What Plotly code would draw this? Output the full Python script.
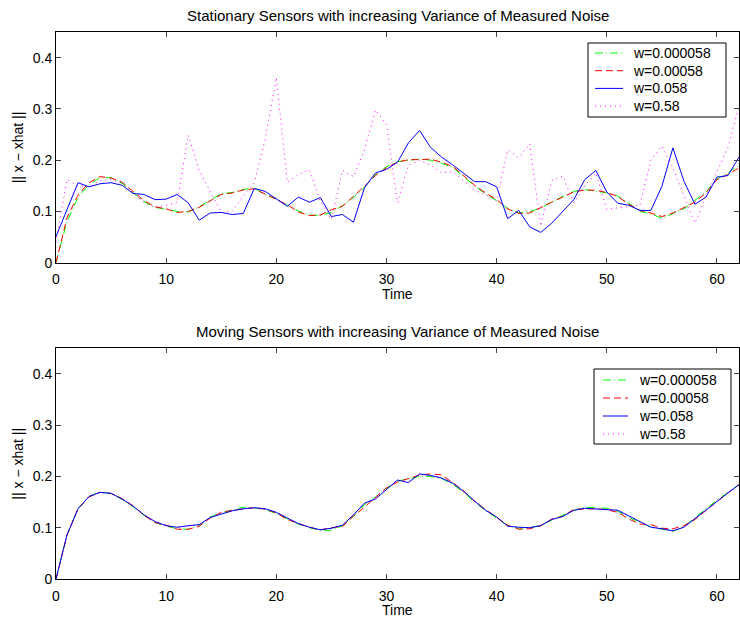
import plotly.graph_objects as go
from plotly.subplots import make_subplots

# Time steps
time = list(range(63))

# Estimation error, stationary sensors
stat_w000058 = [0.000, 0.080, 0.128, 0.152, 0.166, 0.166, 0.155, 0.137, 0.119, 0.108,
                0.104, 0.100, 0.099, 0.109, 0.122, 0.135, 0.137, 0.143, 0.145, 0.133,
                0.125, 0.112, 0.101, 0.093, 0.092, 0.098, 0.111, 0.127, 0.147, 0.172,
                0.187, 0.197, 0.200, 0.202, 0.200, 0.194, 0.186, 0.168, 0.150, 0.134,
                0.121, 0.106, 0.097, 0.100, 0.106, 0.119, 0.129, 0.139, 0.143, 0.140,
                0.136, 0.130, 0.116, 0.100, 0.095, 0.087, 0.096, 0.105, 0.122, 0.138,
                0.163, 0.175, 0.190]
stat_w00058 = [0.000, 0.088, 0.132, 0.156, 0.168, 0.165, 0.157, 0.139, 0.121, 0.109,
               0.105, 0.098, 0.100, 0.108, 0.120, 0.133, 0.136, 0.142, 0.144, 0.134,
               0.124, 0.113, 0.099, 0.092, 0.093, 0.103, 0.110, 0.129, 0.149, 0.170,
               0.185, 0.196, 0.201, 0.201, 0.202, 0.196, 0.188, 0.170, 0.151, 0.136,
               0.123, 0.105, 0.096, 0.097, 0.108, 0.118, 0.128, 0.138, 0.142, 0.141,
               0.137, 0.129, 0.114, 0.102, 0.097, 0.090, 0.097, 0.107, 0.118, 0.136,
               0.162, 0.172, 0.185]
stat_w058 = [0.051, 0.103, 0.156, 0.148, 0.154, 0.156, 0.151, 0.135, 0.133, 0.123,
             0.124, 0.133, 0.117, 0.083, 0.097, 0.098, 0.094, 0.096, 0.145, 0.139,
             0.124, 0.110, 0.128, 0.118, 0.127, 0.090, 0.094, 0.079, 0.146, 0.175,
             0.182, 0.196, 0.234, 0.258, 0.225, 0.206, 0.191, 0.175, 0.158, 0.158,
             0.148, 0.086, 0.102, 0.070, 0.059, 0.077, 0.101, 0.123, 0.162, 0.180,
             0.138, 0.116, 0.112, 0.102, 0.102, 0.149, 0.224, 0.159, 0.114, 0.128,
             0.167, 0.170, 0.206]
stat_w58 = [0.040, 0.162, 0.150, 0.148, 0.160, 0.162, 0.155, 0.136, 0.117, 0.108,
            0.112, 0.118, 0.249, 0.180, 0.140, 0.098, 0.100, 0.130, 0.156, 0.242,
            0.361, 0.157, 0.172, 0.181, 0.120, 0.084, 0.180, 0.168, 0.220, 0.298,
            0.270, 0.117, 0.190, 0.200, 0.190, 0.175, 0.178, 0.160, 0.141, 0.133,
            0.120, 0.220, 0.205, 0.232, 0.071, 0.160, 0.169, 0.117, 0.150, 0.175,
            0.104, 0.107, 0.110, 0.112, 0.200, 0.228, 0.185, 0.130, 0.077, 0.130,
            0.178, 0.225, 0.305]

# Estimation error, moving sensors
mov_w000058 = [0.000, 0.086, 0.137, 0.161, 0.170, 0.167, 0.155, 0.141, 0.124, 0.110,
               0.103, 0.098, 0.097, 0.104, 0.121, 0.129, 0.135, 0.140, 0.139, 0.135,
               0.128, 0.117, 0.107, 0.100, 0.095, 0.095, 0.104, 0.122, 0.145, 0.160,
               0.177, 0.191, 0.195, 0.200, 0.200, 0.196, 0.185, 0.169, 0.150, 0.133,
               0.119, 0.104, 0.099, 0.100, 0.105, 0.115, 0.124, 0.134, 0.140, 0.139,
               0.138, 0.132, 0.120, 0.110, 0.102, 0.097, 0.093, 0.102, 0.120, 0.137,
               0.154, 0.169, 0.184]
mov_w00058 = [0.000, 0.086, 0.137, 0.160, 0.169, 0.167, 0.157, 0.143, 0.124, 0.110,
              0.105, 0.097, 0.097, 0.103, 0.119, 0.130, 0.134, 0.137, 0.139, 0.136,
              0.129, 0.116, 0.108, 0.101, 0.096, 0.100, 0.102, 0.123, 0.140, 0.160,
              0.178, 0.189, 0.196, 0.203, 0.205, 0.203, 0.188, 0.172, 0.151, 0.135,
              0.120, 0.105, 0.097, 0.098, 0.104, 0.117, 0.122, 0.136, 0.137, 0.137,
              0.135, 0.130, 0.117, 0.107, 0.106, 0.099, 0.098, 0.104, 0.116, 0.134,
              0.151, 0.168, 0.184]
mov_w058 = [0.000, 0.086, 0.137, 0.161, 0.169, 0.167, 0.156, 0.142, 0.125, 0.112,
            0.104, 0.101, 0.104, 0.106, 0.120, 0.127, 0.133, 0.137, 0.139, 0.137,
            0.130, 0.119, 0.108, 0.101, 0.096, 0.099, 0.105, 0.125, 0.148, 0.156,
            0.175, 0.193, 0.188, 0.205, 0.202, 0.197, 0.187, 0.171, 0.152, 0.134,
            0.121, 0.103, 0.101, 0.100, 0.104, 0.116, 0.122, 0.134, 0.138, 0.137,
            0.136, 0.134, 0.123, 0.112, 0.101, 0.098, 0.094, 0.101, 0.118, 0.135,
            0.152, 0.168, 0.184]
mov_w58 = [0.000, 0.086, 0.137, 0.161, 0.169, 0.167, 0.156, 0.142, 0.125, 0.112,
           0.104, 0.100, 0.103, 0.106, 0.120, 0.128, 0.133, 0.137, 0.139, 0.137,
           0.130, 0.119, 0.108, 0.101, 0.096, 0.099, 0.105, 0.125, 0.147, 0.157,
           0.176, 0.192, 0.190, 0.204, 0.202, 0.197, 0.187, 0.171, 0.152, 0.134,
           0.121, 0.103, 0.101, 0.100, 0.104, 0.116, 0.122, 0.134, 0.138, 0.137,
           0.136, 0.134, 0.123, 0.112, 0.101, 0.098, 0.094, 0.101, 0.118, 0.135,
           0.152, 0.168, 0.184]

labels = ["w=0.000058", "w=0.00058", "w=0.058", "w=0.58"]
colors = ["#00ff00", "#ff0000", "#0000ff", "#ff00ff"]
dashes = ["8px,3px,1px,3px", "7px,4px", "solid", "1px,4px"]

x_ticks = [0, 10, 20, 30, 40, 50, 60]
y_ticks = [0, 0.1, 0.2, 0.3, 0.4]
y_ticktext = ["0", "0.1", "0.2", "0.3", "0.4"]

FONT = "Liberation Sans, Arial, Helvetica, sans-serif"
W, H = 740, 622
ML, MR, MT, MB = 56, 1, 32, 43


def px_x(px):
    """Pixel column -> paper x."""
    return (px - ML) / (W - ML - MR)


def px_y(py):
    """Pixel row (from top) -> paper y."""
    return (H - MB - py) / (H - MT - MB)


fig = make_subplots(rows=2, cols=1, vertical_spacing=0.1565)

panels = [
    (1, [stat_w000058, stat_w00058, stat_w058, stat_w58]),
    (2, [mov_w000058, mov_w00058, mov_w058, mov_w58]),
]
# dotted series drawn first so the solid/dashed lines sit on top
draw_order = [3, 0, 1, 2]
for row, series in panels:
    for i in draw_order:
        fig.add_trace(
            go.Scatter(
                x=time, y=series[i], mode="lines", name=labels[i],
                line=dict(color=colors[i], dash=dashes[i], width=1),
                showlegend=False,
            ),
            row=row, col=1,
        )

fig.update_layout(
    width=W, height=H,
    margin=dict(l=ML, r=MR, t=MT, b=MB),
    paper_bgcolor="white", plot_bgcolor="white",
    font=dict(family=FONT, size=14, color="black"),
)

fig.update_xaxes(range=[0, 62], tickvals=x_ticks, ticks="inside", ticklen=5,
                 showline=True, linecolor="black", linewidth=1, mirror="ticks",
                 showgrid=False, zeroline=False, tickfont=dict(size=14),
                 ticklabelstandoff=4)
fig.update_yaxes(range=[0, 0.45], tickvals=y_ticks, ticktext=y_ticktext,
                 ticks="inside", ticklen=5,
                 showline=True, linecolor="black", linewidth=1, mirror="ticks",
                 showgrid=False, zeroline=False, tickfont=dict(size=14))

titles = [
    "Stationary Sensors with increasing Variance of Measured Noise",
    "Moving Sensors with increasing Variance of Measured Noise",
]
for k, text in enumerate(titles):
    xref = "x domain" if k == 0 else "x2 domain"
    yref = "y domain" if k == 0 else "y2 domain"
    fig.add_annotation(text=text, xref=xref, yref=yref, x=0.5, y=1,
                       xanchor="center", yanchor="middle",
                       yshift=17, showarrow=False, font=dict(size=15))
    fig.add_annotation(text="Time", xref=xref, yref=yref, x=0.5, y=0,
                       xanchor="center", yanchor="middle",
                       yshift=-31, showarrow=False, font=dict(size=14))
    fig.add_annotation(text="|| x − xhat ||", xref=xref, yref=yref, x=0, y=0.5,
                       xanchor="center", yanchor="middle",
                       xshift=-38, textangle=-90, showarrow=False,
                       font=dict(size=14))

# Boxed legends drawn in the upper right of each panel
legend_boxes = [
    # box left, top, right, bottom, first row centre, row step, sample x0, x1, text x
    (588, 43, 726, 117, 53, 17.7, 595, 623, 631),
    (594, 369, 731, 444, 380, 18.0, 603, 628, 637),
]
for (bx0, by0, bx1, by1, r0, step, sx0, sx1, tx) in legend_boxes:
    fig.add_shape(type="rect", xref="paper", yref="paper",
                  x0=px_x(bx0), x1=px_x(bx1), y0=px_y(by1), y1=px_y(by0),
                  line=dict(color="black", width=1), fillcolor="white",
                  layer="above")
    for i, lab in enumerate(labels):
        yy = px_y(r0 + i * step)
        fig.add_shape(type="line", xref="paper", yref="paper",
                      x0=px_x(sx0), x1=px_x(sx1), y0=yy, y1=yy,
                      line=dict(color=colors[i], dash=dashes[i], width=1),
                      layer="above")
        fig.add_annotation(text=lab, xref="paper", yref="paper",
                           x=px_x(tx), y=yy, xanchor="left", yanchor="middle",
                           showarrow=False, font=dict(size=14))

fig.write_html("out.html")
